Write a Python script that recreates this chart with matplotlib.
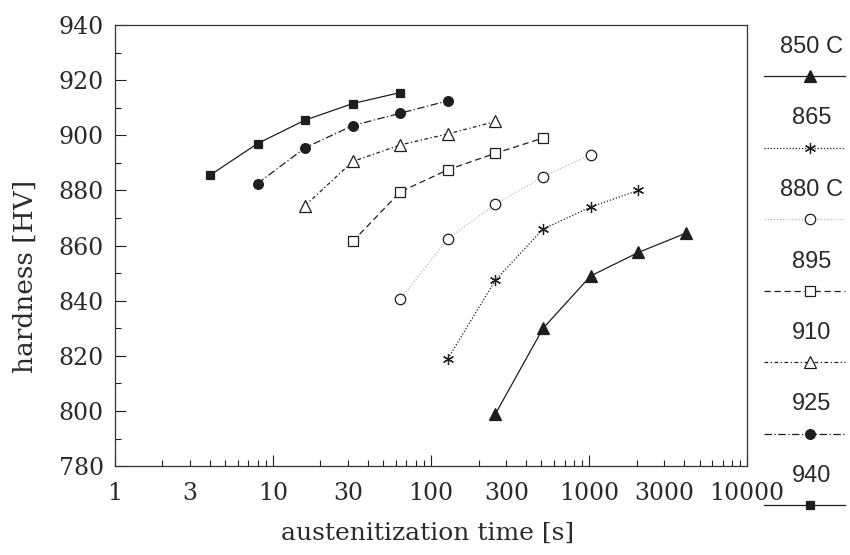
import numpy as np
import matplotlib
matplotlib.use("Agg")
import matplotlib.pyplot as plt
from matplotlib.ticker import FixedLocator, NullFormatter

# austenitization times [s] and hardness [HV]
t_850 = [256, 512, 1024, 2048, 4096]
hv_850 = [799, 830, 849, 857.5, 864.5]
t_865 = [128, 256, 512, 1024, 2048]
hv_865 = [819, 847.5, 866, 874, 880]
t_880 = [64, 128, 256, 512, 1024]
hv_880 = [840.5, 862.5, 875, 885, 893]
t_895 = [32, 64, 128, 256, 512]
hv_895 = [861.5, 879.5, 887.5, 893.5, 899]
t_910 = [16, 32, 64, 128, 256]
hv_910 = [874.5, 890.5, 896.5, 900.5, 905]
t_925 = [8, 16, 32, 64, 128]
hv_925 = [882.5, 895.5, 903.5, 908, 912.5]
t_940 = [4, 8, 16, 32, 64]
hv_940 = [885.5, 897, 905.5, 911.5, 915.5]

labels = ["850 C", "865", "880 C", "895", "910", "925", "940"]
xticks = [1, 3, 10, 30, 100, 300, 1000, 3000, 10000]
xticklabels = ["1", "3", "10", "30", "100", "300", "1000", "3000", "10000"]

ink = "#1e1e1e"
txt = "#2a2a2a"
styles = [
    dict(ls="-", marker="^", mfc=ink, ms=8.5, color=ink),
    dict(ls=(0, (1, 1.5)), marker=(6, 2, 0), mfc=ink, ms=8, color=ink),
    dict(ls=(0, (1, 1.5)), marker="o", mfc="white", ms=7.5, color="#b8b8b8", mec=ink),
    dict(ls=(0, (5, 3)), marker="s", mfc="white", ms=6.5, color=ink),
    dict(ls=(0, (3, 2, 1, 2)), marker="^", mfc="white", ms=8.5, color=ink),
    dict(ls=(0, (6, 2, 1, 2)), marker="o", mfc=ink, ms=7, color=ink),
    dict(ls="-", marker="s", mfc=ink, ms=6, color=ink),
]
series = [(t_850, hv_850), (t_865, hv_865), (t_880, hv_880), (t_895, hv_895),
          (t_910, hv_910), (t_925, hv_925), (t_940, hv_940)]

serif = "DejaVu Serif"
plt.rcParams["font.family"] = serif

fig = plt.figure(figsize=(8.5, 5.55), dpi=100)
ax = fig.add_axes([0.135, 0.160, 0.744, 0.795])

for (t, hv), st in zip(series, styles):
    st = dict(st)
    mec = st.pop("mec", ink)
    ax.plot(t, hv, linestyle=st["ls"], marker=st["marker"], mfc=st["mfc"],
            mec=mec, ms=st["ms"], color=st["color"], lw=0.9, mew=0.9)

ax.set_xscale("log")
ax.set_xlim(1, 10000)
ax.set_ylim(780, 940)

# decade ticks long, others short; labels on 1,3,10,30,...
ax.xaxis.set_major_locator(FixedLocator([1, 10, 100, 1000, 10000]))
ax.xaxis.set_major_formatter(NullFormatter())
minor = [m * 10 ** e for e in range(4) for m in range(2, 10)]
ax.xaxis.set_minor_locator(FixedLocator(minor))
ax.xaxis.set_minor_formatter(NullFormatter())
for x, lab in zip(xticks, xticklabels):
    ax.text(x, -0.035, lab, transform=ax.get_xaxis_transform(), ha="center",
            va="top", fontsize=17, family=serif, color=txt)

ax.set_yticks(np.arange(780, 941, 20))
ax.set_yticklabels([str(v) for v in range(780, 941, 20)], family=serif, fontsize=17, color=txt)
ax.set_yticks(np.arange(790, 940, 20), minor=True)

ax.tick_params(axis="both", which="major", direction="in", length=8, width=0.8,
               top=False, right=False, pad=8, colors=ink)
ax.tick_params(axis="both", which="minor", direction="in", length=4.5, width=0.8,
               top=False, right=False, colors=ink)
ax.tick_params(axis="y", labelcolor=txt)
for sp in ax.spines.values():
    sp.set_linewidth(0.9)
    sp.set_color("#333333")

ax.set_xlabel("austenitization time [s]", family=serif, fontsize=18, color=txt)
ax.xaxis.set_label_coords(0.495, -0.125)
ax.set_ylabel("hardness [HV]", family=serif, fontsize=19, color=txt)
ax.yaxis.set_label_coords(-0.122, 0.43)

# legend column on the right: label above a sample line
lax = fig.add_axes([0, 0, 1, 1], facecolor="none")
lax.set_xlim(0, 850)
lax.set_ylim(555, 0)
lax.axis("off")
for i, (lab, st) in enumerate(zip(labels, styles)):
    st = dict(st)
    mec = st.pop("mec", ink)
    yl = 47 + i * 71.5
    yline = yl + 29
    lax.text(812, yl, lab, ha="center", va="center", fontsize=17,
             family="Liberation Sans", color=txt)
    lax.plot([764, 810, 845], [yline] * 3, linestyle=st["ls"], marker=st["marker"],
             markevery=[1], mfc=st["mfc"], mec=mec, ms=st["ms"], color=st["color"],
             lw=0.9, mew=0.9)

fig.savefig("out.png", dpi=100)
